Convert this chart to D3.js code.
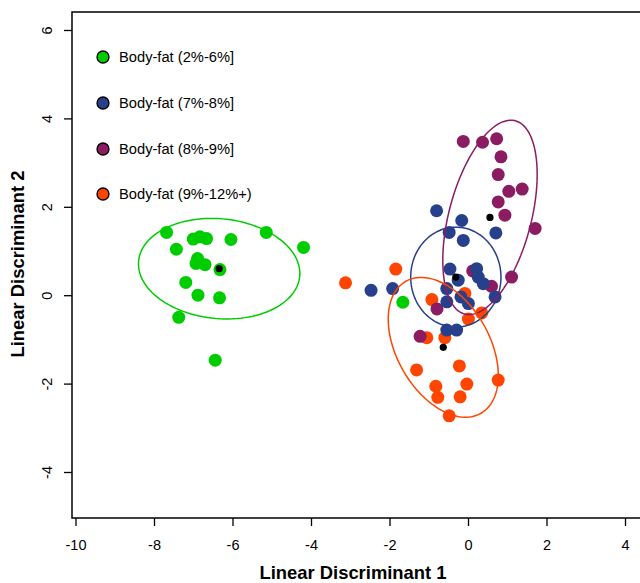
<!DOCTYPE html>
<html>
<head>
<meta charset="utf-8">
<script src="https://cdn.jsdelivr.net/npm/d3@7"></script>
<style>
  body { margin: 0; background: #fff; }
  svg { display: block; }
  text { font-family: "Liberation Sans", Arial, sans-serif; }
</style>
</head>
<body>
<script>
var w = 640;
var h = 583;

// group names and colours
var groups = ["Body-fat (2%-6%]", "Body-fat (7%-8%]", "Body-fat (8%-9%]", "Body-fat (9%-12%+)"];
var colors = ["#00CD00", "#27408B", "#8B1C62", "#FF4500"];

// LD scores per group, [LD1, LD2]
var green = [[-7.68, 1.42], [-7.00, 1.27], [-6.83, 1.32], [-6.66, 1.28], [-6.04, 1.26], [-5.14, 1.42],
    [-4.19, 1.08], [-7.43, 1.04], [-6.89, 0.83], [-6.93, 0.72], [-6.70, 0.69], [-6.32, 0.58],
    [-7.19, 0.29], [-6.88, 0.00], [-6.33, -0.06], [-7.37, -0.50], [-6.44, -1.47], [-1.66, -0.16]];
var blue = [[-0.80, 1.91], [-0.16, 1.69], [-0.48, 1.42], [-0.12, 1.24], [0.71, 1.41], [-0.46, 0.59],
    [0.22, 0.60], [-0.25, 0.34], [0.26, 0.41], [0.39, 0.26], [-0.54, 0.15], [-0.18, -0.04],
    [0.01, -0.19], [-0.54, -0.15], [0.69, -0.04], [-0.54, -0.79], [-0.29, -0.79], [-2.47, 0.11], [-1.92, 0.15]];
var purple = [[-0.12, 3.48], [0.37, 3.46], [0.73, 3.54], [0.84, 3.13], [0.77, 2.73], [1.04, 2.35],
    [1.38, 2.40], [0.77, 2.11], [0.94, 1.81], [1.71, 1.51], [1.11, 0.41], [0.60, 0.20],
    [0.12, 0.55], [-0.79, -0.31], [-1.22, -0.93]];
var orange = [[-3.12, 0.28], [-1.84, 0.59], [-0.92, -0.10], [-0.08, 0.04], [0.35, -0.40], [0.01, -0.54],
    [-1.05, -0.96], [-0.59, -0.96], [-1.31, -1.69], [-0.22, -1.60], [0.77, -1.92], [-0.03, -2.01],
    [-0.82, -2.06], [-0.77, -2.31], [-0.20, -2.30], [-0.48, -2.73]];

// group centroids
var centroids = [[-6.34, 0.60], [-0.31, 0.41], [0.56, 1.76], [-0.63, -1.18]];
// ellipses: semi-axis a, semi-axis b, rotation (degrees, data space)
var ellA = [2.06, 1.15, 2.28, 1.78];
var ellB = [1.13, 1.13, 1.04, 1.14];
var ellAngle = [-4.3, 0, 72.7, -53.3];

var xTicks = [-10, -8, -6, -4, -2, 0, 2, 4];
var yTicks = [-4, -2, 0, 2, 4, 6];

var xScale = d3.scaleLinear().domain([-10, 4]).range([75.5, 625]);
var yScale = d3.scaleLinear().domain([-4, 6]).range([472, 30]);

var box = { left: 72, top: 12, bottom: 518, right: 700 };

var svg = d3.select("body").append("svg")
    .attr("width", w)
    .attr("height", h);

// points: orange, purple, blue, green (drawing order)
var sets = [[orange, 3], [purple, 2], [blue, 1], [green, 0]];
sets.forEach(function (s) {
    svg.append("g").selectAll("circle")
        .data(s[0])
        .enter()
        .append("circle")
        .attr("cx", function (d) { return xScale(d[0]); })
        .attr("cy", function (d) { return yScale(d[1]); })
        .attr("r", 6.5)
        .attr("fill", colors[s[1]]);
});

// ellipses
var line = d3.line()
    .x(function (d) { return xScale(d[0]); })
    .y(function (d) { return yScale(d[1]); });

centroids.forEach(function (c, i) {
    var th = ellAngle[i] * Math.PI / 180;
    var pts = d3.range(0, 361, 3).map(function (deg) {
        var t = deg * Math.PI / 180;
        var u = ellA[i] * Math.cos(t), v = ellB[i] * Math.sin(t);
        return [c[0] + u * Math.cos(th) - v * Math.sin(th), c[1] + u * Math.sin(th) + v * Math.cos(th)];
    });
    svg.append("path")
        .attr("d", line(pts))
        .attr("fill", "none")
        .attr("stroke", colors[i])
        .attr("stroke-width", 1.5);
});

// centroids
svg.append("g").selectAll("circle")
    .data(centroids)
    .enter()
    .append("circle")
    .attr("cx", function (d) { return xScale(d[0]); })
    .attr("cy", function (d) { return yScale(d[1]); })
    .attr("r", 3.6)
    .attr("fill", "#000");

// box (left, top, bottom)
svg.append("path")
    .attr("d", "M" + box.right + "," + box.top + "H" + box.left + "V" + box.bottom + "H" + box.right)
    .attr("fill", "none")
    .attr("stroke", "#000")
    .attr("stroke-width", 1.5);

// axes
var xaxis = d3.axisBottom(xScale).tickValues(xTicks).tickSize(8).tickPadding(14).tickFormat(d3.format("d"));
var gx = svg.append("g")
    .attr("transform", "translate(0," + box.bottom + ")")
    .call(xaxis);
gx.select(".domain").remove();
gx.selectAll("line").attr("stroke-width", 1.3);
gx.selectAll("text").attr("font-size", "14.5px").attr("fill", "#000")
    .style("font-family", "'Liberation Sans', Arial, sans-serif")
    .text(function (d) { return d < 0 ? "-" + Math.abs(d) : d; });

var yaxis = d3.axisLeft(yScale).tickValues(yTicks).tickSize(8).tickFormat(d3.format("d"));
var gy = svg.append("g")
    .attr("transform", "translate(" + box.left + ",0)")
    .call(yaxis);
gy.select(".domain").remove();
gy.selectAll("line").attr("stroke-width", 1.3);
gy.selectAll("text").remove();
gy.selectAll(".tick").append("text")
    .attr("transform", "translate(-25,0) rotate(-90)")
    .attr("text-anchor", "middle")
    .attr("dy", "0.35em")
    .attr("font-size", "14.5px")
    .attr("fill", "#000")
    .text(function (d) { return d < 0 ? "-" + Math.abs(d) : d; });

// axis titles
svg.append("text")
    .attr("x", 353)
    .attr("y", 579)
    .attr("text-anchor", "middle")
    .attr("font-size", "18.4px")
    .attr("font-weight", "bold")
    .text("Linear Discriminant 1");

svg.append("text")
    .attr("transform", "translate(24,264) rotate(-90)")
    .attr("text-anchor", "middle")
    .attr("font-size", "18.4px")
    .attr("font-weight", "bold")
    .text("Linear Discriminant 2");

// legend
var legendY = [57, 103, 149, 194];
var lg = svg.append("g").selectAll("g")
    .data(groups)
    .enter()
    .append("g")
    .attr("transform", function (d, i) { return "translate(103," + legendY[i] + ")"; });
lg.append("circle")
    .attr("r", 6)
    .attr("fill", function (d, i) { return colors[i]; })
    .attr("stroke", "#000")
    .attr("stroke-width", 1.3);
lg.append("text")
    .attr("x", 16)
    .attr("dy", "0.35em")
    .attr("font-size", "14.7px")
    .text(function (d) { return d; });
</script>
</body>
</html>
